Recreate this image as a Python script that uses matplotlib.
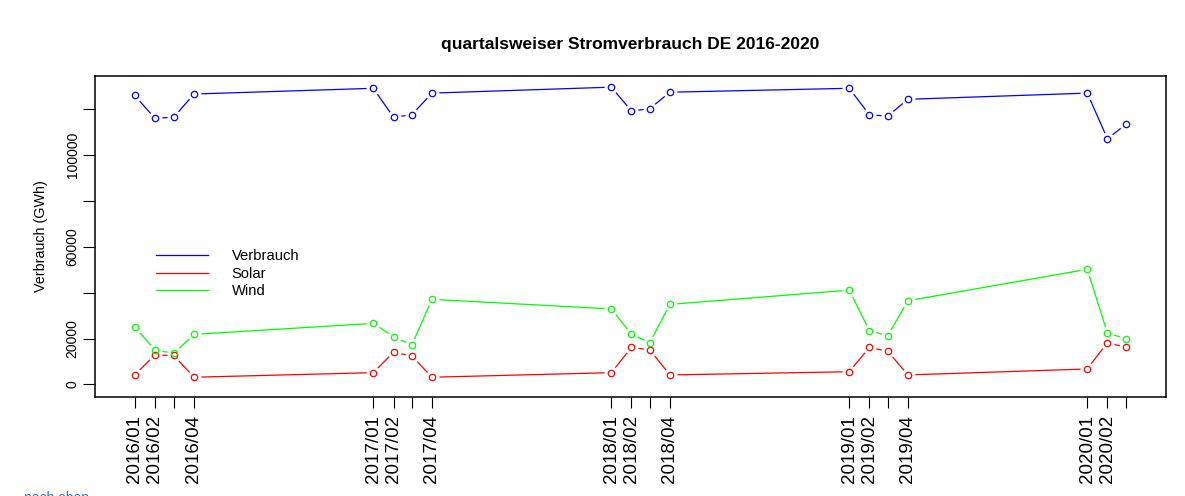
import datetime as dt
import numpy as np
import matplotlib
matplotlib.use("Agg")
import matplotlib.pyplot as plt
import matplotlib.dates as mdates

plt.rcParams['font.family'] = ['Liberation Sans', 'DejaVu Sans']

# Quartale als "Monat" 1-4 kodiert (wie im Original)
quartale = ['2016/01', '2016/02', '2016/03', '2016/04',
            '2017/01', '2017/02', '2017/03', '2017/04',
            '2018/01', '2018/02', '2018/03', '2018/04',
            '2019/01', '2019/02', '2019/03', '2019/04',
            '2020/01', '2020/02', '2020/03']
verbrauch = [126100, 116100, 116600, 126700,
             129200, 116600, 117600, 127100,
             129700, 119300, 120300, 127500,
             129200, 117600, 117100, 124400,
             127100, 107200, 113600]
solar = [4100, 12800, 12600, 3100,
         5100, 14000, 12400, 3100,
         5100, 16100, 15000, 4100,
         5500, 16100, 14400, 4100,
         6700, 18200, 16100]
wind = [25000, 15000, 13500, 21800,
        26600, 20800, 17100, 37100,
        32900, 21800, 18200, 34900,
        41100, 23400, 21200, 36500,
        50200, 22400, 19800]
shown_labels = ['2016/01', '2016/02', '', '2016/04',
                '2017/01', '2017/02', '', '2017/04',
                '2018/01', '2018/02', '', '2018/04',
                '2019/01', '2019/02', '', '2019/04',
                '2020/01', '2020/02', '']

dates = [dt.date(int(q[:4]), int(q[5:]), 1) for q in quartale]
x = mdates.date2num(dates)

fig = plt.figure(figsize=(11.85, 4.96), dpi=100)
ax = fig.add_axes([95 / 1185, 1 - 396.7 / 496, (1166 - 95) / 1185, (396.7 - 75.7) / 496])

series = [(verbrauch, '#0000FF', 'Verbrauch'),
          (solar, '#FF0000', 'Solar'),
          (wind, '#00FF00', 'Wind')]

# type="b": Linien, Lücken um die Punkte, offene Kreise
for vals, col, lab in series:
    ax.plot(x, vals, color=col, lw=0.9, zorder=2, label=lab)
for vals, col, lab in series:
    ax.plot(x, vals, ls='none', marker='o', ms=9, mfc='white', mec='white', zorder=3)
for vals, col, lab in series:
    ax.plot(x, vals, ls='none', marker='o', ms=4.6, mfc='none', mec=col, mew=0.9, zorder=4)

span = x[-1] - x[0]
ax.set_xlim(x[0] - 0.04 * span, x[-1] + 0.04 * span)
ax.set_ylim(-5400, 134700)

ax.set_xticks(x)
ax.set_xticklabels(shown_labels, rotation=90, fontsize=13.5)
yt = np.arange(0, 120001, 20000)
ax.set_yticks(yt)
ax.set_yticklabels(['0', '20000', '', '60000', '', '100000', ''],
                   rotation=90, va='center', fontsize=10)
ax.tick_params(axis='x', length=8, width=0.8, pad=5)
ax.tick_params(axis='y', length=9, width=0.8, pad=2)
for s in ax.spines.values():
    s.set_linewidth(1.1)

ax.set_ylabel('Verbrauch (GWh)', fontsize=10.3, labelpad=12.5)
ax.set_title('quartalsweiser Stromverbrauch DE 2016-2020',
             fontsize=12.5, fontweight='bold', pad=19.5)

leg = ax.legend(loc='upper left', bbox_to_anchor=(0.045, 0.50), frameon=False,
                fontsize=10.6, handlelength=3.5, handletextpad=1.6,
                labelspacing=0.22)

fig.text(24 / 1185, 1 - 491 / 496, 'nach oben', color='#3b6fc8',
         fontsize=10, va='top', ha='left')

fig.savefig('out.png', dpi=100)
